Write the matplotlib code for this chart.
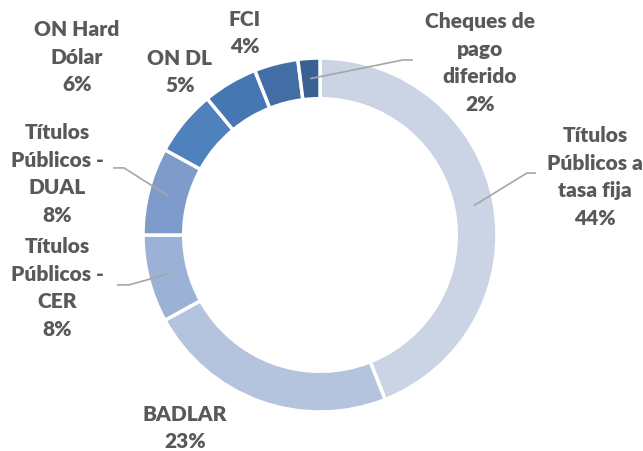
import numpy as np
import matplotlib
matplotlib.use('Agg')
import matplotlib.pyplot as plt

# datos
labels = ['Títulos\nPúblicos a\ntasa fija', 'BADLAR', 'Títulos\nPúblicos -\nCER',
          'Títulos\nPúblicos -\nDUAL', 'ON Hard\nDólar', 'ON DL', 'FCI',
          'Cheques de\npago\ndiferido']
values = [44, 23, 8, 8, 6, 5, 4, 2]
colors = ['#cad4e5', '#b4c3de', '#9cb1d6', '#7f9bcb', '#4f81bd', '#4777b3', '#426ea5', '#3a6194']

# posiciones de etiquetas (unidades del radio exterior)
label_pos = [(1.554, 0.333), (-0.763, -1.085), (-1.486, -0.294), (-1.486, 0.350),
             (-1.373, 1.011), (-0.791, 0.927), (-0.424, 1.147), (0.904, 0.977)]
# codo de la línea guía (solo para las que tienen)
elbows = {0: ((1.169, 0.350), (1.220, 0.350)),
          2: ((-1.079, -0.282), (-1.147, -0.282)),
          3: ((-1.107, 0.379), (-1.169, 0.379)),
          7: ((0.469, 0.989), (0.525, 0.989))}

plt.rcParams['font.family'] = ['Lato', 'DejaVu Sans']

fig = plt.figure(figsize=(6.43, 4.52), dpi=100)
ax = fig.add_axes([143/643, 39/452, 354/643, 354/452])

ring = 0.23
wedges, _ = ax.pie(values, colors=colors, startangle=90, counterclock=False,
                   radius=1, wedgeprops=dict(width=ring, edgecolor='white', linewidth=2.5))
ax.set_xlim(-1, 1)
ax.set_ylim(-1, 1)
ax.set_aspect('equal')
ax.axis('off')

total = sum(values)
cum = np.cumsum([0] + values)
for i, (lab, v) in enumerate(zip(labels, values)):
    pct = round(v / total * 100)
    x, y = label_pos[i]
    ax.text(x, y, f'{lab}\n{pct}%', ha='center', va='center', fontsize=15,
            fontweight='heavy', color='#595959', linespacing=1.55, clip_on=False)
    if i in elbows:
        mid = np.deg2rad(90 - (cum[i] + v / 2) / total * 360)
        r = 1 - ring / 2
        sx, sy = r * np.cos(mid), r * np.sin(mid)
        (ex, ey), (fx, fy) = elbows[i]
        ax.plot([sx, ex, fx], [sy, ey, fy], color='#a6a6a6', lw=1.2, clip_on=False,
                solid_capstyle='butt')

fig.savefig('out.png', dpi=100)
